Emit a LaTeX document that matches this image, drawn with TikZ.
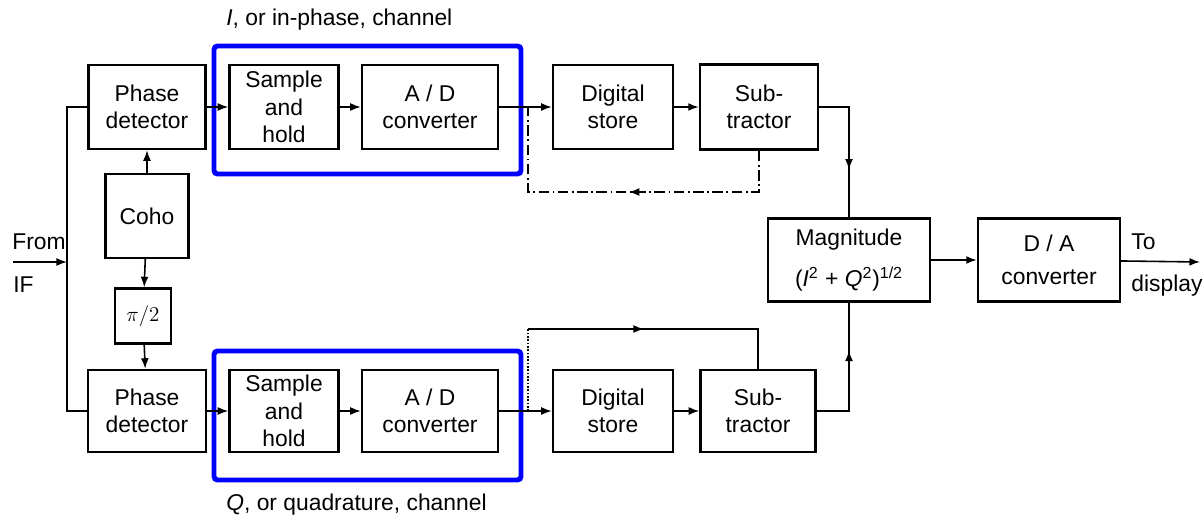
\documentclass[tikz,border=0pt]{standalone}
\usepackage{fontspec}
\setmainfont{Liberation Sans}
\usetikzlibrary{arrows.meta,decorations.markings}
\tikzset{
  block/.style={draw,line width=1.4pt,inner sep=0pt,align=center},
  wire/.style={line width=0.9pt},
  sig/.style={wire,-{Latex[length=6pt,width=4.5pt]}},
  midarrow/.style={wire,postaction={decorate},
    decoration={markings,mark=at position #1 with {\arrow{Latex[length=6pt,width=4.5pt]}}}},
  chanbox/.style={draw=blue,line width=2.8pt,rounded corners=2pt},
  lbl/.style={inner sep=0pt,anchor=west}
}
\begin{document}
\begin{tikzpicture}[x=0.02cm,y=-0.02cm,font=\fontsize{13}{15.5}\selectfont]
\useasboundingbox (0,0) rectangle (1203,521);
% left column
\node[block,minimum width=2.34cm,minimum height=1.68cm] (pdI) at (147,107) {Phase\\detector};
\node[block,minimum width=1.66cm,minimum height=1.68cm] (coho) at (147,216) {Coho};
\node[block,minimum width=1.12cm,minimum height=1.10cm] (pitwo) at (143,316) {$\pi/2$};
\node[block,minimum width=2.36cm,minimum height=1.64cm] (pdQ) at (147,411) {Phase\\detector};
% I channel
\node[block,minimum width=2.18cm,minimum height=1.68cm] (shI) at (284,107) {Sample\\and\\hold};
\node[block,minimum width=2.72cm,minimum height=1.68cm] (adI) at (430,107) {A / D\\converter};
\node[block,minimum width=2.40cm,minimum height=1.68cm] (dsI) at (613,107) {Digital\\store};
\node[block,minimum width=2.36cm,minimum height=1.70cm] (subI) at (759,107) {Sub-\\tractor};
% Q channel
\node[block,minimum width=2.18cm,minimum height=1.64cm] (shQ) at (284,411) {Sample\\and\\hold};
\node[block,minimum width=2.72cm,minimum height=1.64cm] (adQ) at (430,411) {A / D\\converter};
\node[block,minimum width=2.40cm,minimum height=1.64cm] (dsQ) at (613,411) {Digital\\store};
\node[block,minimum width=2.30cm,minimum height=1.64cm] (subQ) at (758,411) {Sub-\\tractor};
% output
\node[block,minimum width=3.24cm,minimum height=1.66cm] (mag) at (849,260) {Magnitude\\[8pt](\textit{I}\textsuperscript{2} + \textit{Q}\textsuperscript{2})\textsuperscript{1/2}};
\node[block,minimum width=2.84cm,minimum height=1.66cm] (da) at (1049,260) {D / A\\[3pt]converter};

\draw[chanbox] (214,46) rectangle (521,174);
\draw[chanbox] (214,351) rectangle (521,480);

\node[lbl] (ilbl) at (226,20) {\textit{I}, or in-phase, channel};
\node[lbl] (qlbl) at (226,505) {\textit{Q}, or quadrature, channel};
\node[lbl] (from) at (12,242) {From};
\node[lbl] (ifl) at (13,285) {IF};
\node[lbl] (to) at (1131,242) {To};
\node[lbl] (disp) at (1131,286) {display};

\coordinate (ifin) at (13,262);
\coordinate (bus) at (67,262);
\coordinate (jI) at (528,107);
\coordinate (jQ) at (528,411);
\coordinate (out) at (1200,262);

\draw[sig] (ifin) -- (bus);
\draw[wire] (pdI.west) -| (bus) |- (pdQ.west);
\draw[sig] (coho) -- (pdI);
\draw[sig] (coho) -- (pitwo);
\draw[sig] (pitwo) -- (pdQ);
\draw[sig] (pdI) -- (shI);
\draw[sig] (shI) -- (adI);
\draw[sig] (adI) -- (dsI);
\draw[sig] (dsI) -- (subI);
\draw[sig] (pdQ) -- (shQ);
\draw[sig] (shQ) -- (adQ);
\draw[sig] (adQ) -- (dsQ);
\draw[sig] (dsQ) -- (subQ);
\draw[midarrow=0.48,dash pattern=on 6pt off 2pt on 1pt off 2pt] (subI.south) -- (subI.south |- 0,192) -| (jI);
\draw[wire,densely dotted] (jQ) -- (jQ |- 0,329);
\draw[midarrow=0.43] (jQ |- 0,329) -| (subQ.north);
\draw[midarrow=0.66] (subI.east) -| (mag.north);
\draw[midarrow=0.66] (subQ.east) -| (mag.south);
\draw[sig] (mag) -- (da);
\draw[sig] (da) -- (out);
\end{tikzpicture}
\end{document}
